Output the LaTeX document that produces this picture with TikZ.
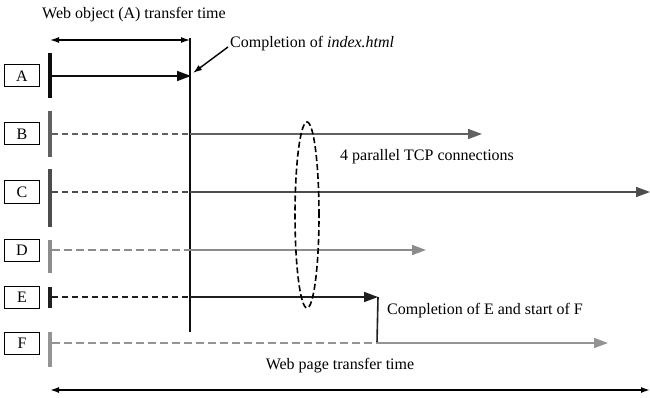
\documentclass[tikz,border=0pt]{standalone}
\usepackage{fontspec}
\setmainfont{Liberation Serif}
\usetikzlibrary{arrows.meta,shapes.geometric}
\definecolor{cA}{gray}{0.05}
\definecolor{cB}{gray}{0.38}
\definecolor{cC}{gray}{0.30}
\definecolor{cD}{gray}{0.55}
\definecolor{cE}{gray}{0.12}
\definecolor{cF}{gray}{0.58}
\begin{document}
\begin{tikzpicture}[x=1pt,y=-1pt,
  font=\fontsize{16}{19}\selectfont,
  lab/.style={draw, line width=1pt, minimum width=35pt, minimum height=22pt, inner sep=0pt, fill=white},
  bar/.style={line width=4pt},
  conn/.style={line width=1.6pt},
  tip/.style={conn,-{Triangle[length=14pt,width=10pt]}},
  dsh/.style={conn, dash pattern=on 6pt off 4pt},
  small/.style={-{Latex[length=9pt,width=6pt]}, line width=1.4pt},
  txt/.style={inner sep=0pt}]
\useasboundingbox (0,0) rectangle (650,398);
% label boxes
\node[lab] (A) at (22,76) {A};
\node[lab] (B) at (22,134) {B};
\node[lab] (C) at (22,192) {C};
\node[lab] (D) at (22,250) {D};
\node[lab] (E) at (22,297) {E};
\node[lab] (F) at (22,343) {F};
% start bars
\draw[bar,cA] (50,53) -- (50,98);
\draw[bar,cB] (50,111) -- (50,157);
\draw[bar,cC] (50,169) -- (50,227);
\draw[bar,cD] (50,240) -- (50,273);
\draw[bar,cE] (50,287) -- (50,308);
\draw[bar,cF] (50,332) -- (50,367);
% vertical completion line
\coordinate (vt) at (190,38);
\coordinate (vb) at (190,332);
\draw[conn,cA] (vt) -- (vb);
% row coordinates
\coordinate (a0) at (52,76);  \coordinate (a1) at (191,76);
\coordinate (b0) at (52,134); \coordinate (b1) at (190,134); \coordinate (b2) at (482,134);
\coordinate (c0) at (52,192); \coordinate (c1) at (190,192); \coordinate (c2) at (650,192);
\coordinate (d0) at (52,250); \coordinate (d1) at (190,250); \coordinate (d2) at (426,250);
\coordinate (e0) at (52,297); \coordinate (e1) at (190,297); \coordinate (e2) at (378,297);
\coordinate (f0) at (52,343); \coordinate (f1) at (377,343); \coordinate (f2) at (608,343);
% A
\draw[tip,cA] (a0) -- (a1);
% B
\draw[dsh,cB] (b0) -- (b1);
\draw[tip,cB] (b1) -- (b2);
% C
\draw[dsh,cC] (c0) -- (c1);
\draw[tip,cC] (c1) -- (c2);
% D
\draw[dsh,cD,dash pattern=on 8pt off 4pt] (d0) -- (d1);
\draw[tip,cD] (d1) -- (d2);
% E
\draw[dsh,cE] (e0) -- (e1);
\draw[tip,cE] (e1) -- (e2);
\draw[conn,cE] (e2) -- (f1);
% F
\draw[dsh,cF,dash pattern=on 8pt off 4pt] (f0) -- (f1);
\draw[tip,cF] (f1) -- (f2);
% ellipse grouping
\node[draw, dash pattern=on 6pt off 3pt, line width=1.6pt, ellipse, minimum width=24pt, minimum height=186pt, inner sep=0pt] (grp) at (307,215) {};
% texts
\node[txt] (wo) at (134,15) {Web object (A) transfer time};
\coordinate (wl) at (50,40); \coordinate (wr) at (190,40);
\draw[line width=1.4pt, {Latex[length=9pt,width=6pt]}-{Latex[length=9pt,width=6pt]}] (wl) -- (wr);
\node[txt,anchor=west] (ci) at (230,44) {Completion of \textit{index.html}};
\coordinate (cis) at (228,47);
\coordinate (cit) at (193,73);
\draw[small] (cis) -- (cit);
\node[txt,anchor=west] (tcp) at (340,157) {4 parallel TCP connections};
\node[txt,anchor=west] (cef) at (387,311) {Completion of E and start of F};
\node[txt] (wp) at (340,366) {Web page transfer time};
\coordinate (pl) at (50,390); \coordinate (pr) at (650,390);
\draw[line width=1.6pt, {Latex[length=9pt,width=6pt]}-{Latex[length=9pt,width=6pt]}] (pl) -- (pr);
\end{tikzpicture}
\end{document}
